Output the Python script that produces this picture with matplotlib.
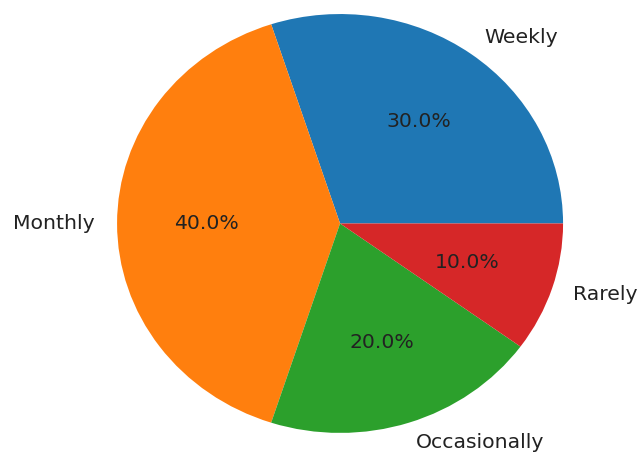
import matplotlib
matplotlib.use("Agg")
import matplotlib.pyplot as plt

# Survey answers: how often
labels = ["Weekly", "Monthly", "Occasionally", "Rarely"]
shares = [30, 40, 20, 10]

fig = plt.figure(figsize=(6.42, 4.57), dpi=100)
ax = fig.add_axes([0, 0, 1, 1])

ax.pie(shares, labels=labels, autopct="%1.1f%%",
       textprops={"fontsize": 14.7, "color": "#222222"})

# the reference is slightly wider than tall, so keep the aspect free
ax.set_aspect("auto")
ax.set_xlim(-1.525, 1.354)
ax.set_ylim(-1.115, 1.067)

fig.savefig("out.png", dpi=100)
